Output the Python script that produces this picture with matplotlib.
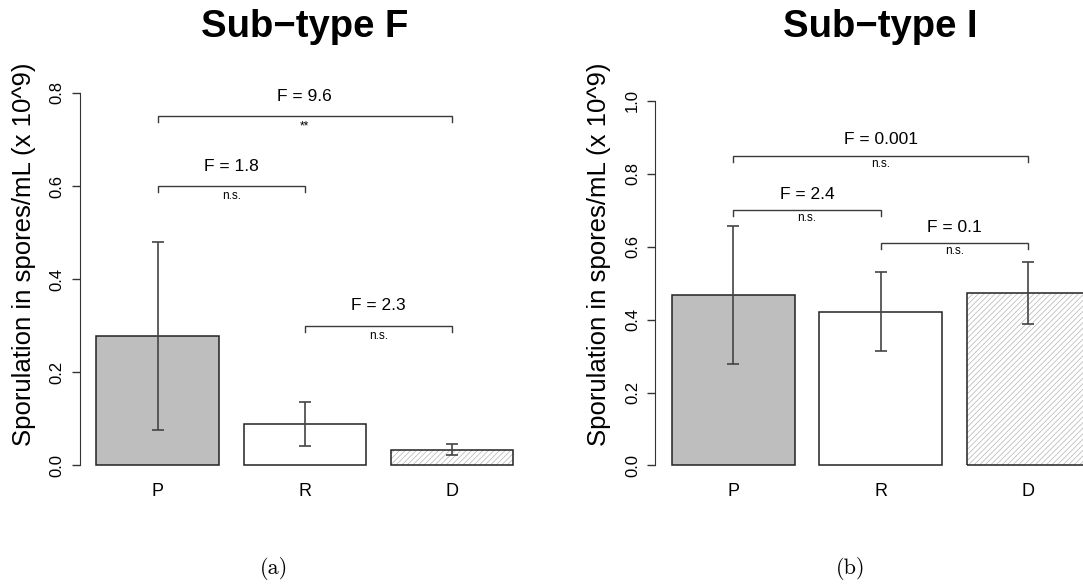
import matplotlib
matplotlib.use("Agg")
import matplotlib.pyplot as plt

plt.rcParams['font.family'] = ['Liberation Sans', 'DejaVu Sans']
plt.rcParams['hatch.linewidth'] = 0.5

# --- data ---
categories = ['P', 'R', 'D']

f_means = [0.278, 0.089, 0.034]
f_err = [0.202, 0.047, 0.0115]
f_pairs = [(0, 2), (0, 1), (1, 2)]
f_stats = ['9.6', '1.8', '2.3']
f_sig = ['**', 'n.s.', 'n.s.']
f_bracket_y = [0.75, 0.60, 0.30]
f_yticks = [0.0, 0.2, 0.4, 0.6, 0.8]

i_means = [0.468, 0.422, 0.474]
i_err = [0.189, 0.108, 0.085]
i_pairs = [(0, 2), (0, 1), (1, 2)]
i_stats = ['0.001', '2.4', '0.1']
i_sig = ['n.s.', 'n.s.', 'n.s.']
i_bracket_y = [0.85, 0.70, 0.61]
i_yticks = [0.0, 0.2, 0.4, 0.6, 0.8, 1.0]

W, H = 1083, 585
fig = plt.figure(figsize=(W / 100, H / 100), dpi=100)

bar_x = [0.7, 1.9, 3.1]
fills = ['#bebebe', 'white', 'white']
hatches = [None, None, '//////']
line_col = '#3a3a3a'


def px_axes(x0, x1, y0, y1):
    return fig.add_axes([x0 / W, 1 - y1 / H, (x1 - x0) / W, (y1 - y0) / H])


def draw_panel(ax, means, err, pairs, stats, sig, bracket_y, yticks, ylim):
    for xi, m, fc, h in zip(bar_x, means, fills, hatches):
        if h:
            ax.bar(xi, m, width=1.0, color='white', edgecolor='#b4b4b4',
                   hatch=h, linewidth=0)
            ax.bar(xi, m, width=1.0, color='none', edgecolor='#222222', linewidth=1.1)
        else:
            ax.bar(xi, m, width=1.0, color=fc, edgecolor='#222222', linewidth=1.1)
    ax.errorbar(bar_x, means, yerr=err, fmt='none', ecolor='#444444',
                elinewidth=1.2, capsize=4.5, capthick=1.2)

    ax.set_xlim(0.064, 3.736)
    ax.set_ylim(*ylim)
    units_per_px = (ylim[1] - ylim[0]) / ax.bbox.height
    tick = 6 * units_per_px
    for (a, b), st, sg, yb in zip(pairs, stats, sig, bracket_y):
        xa, xb = bar_x[a], bar_x[b]
        ax.plot([xa, xa, xb, xb], [yb - tick, yb, yb, yb - tick],
                color=line_col, lw=1.0, solid_joinstyle='miter')
        ax.text((xa + xb) / 2, yb + 0.043, 'F = ' + st, ha='center', va='center',
                fontsize=12.5)
        ax.text((xa + xb) / 2, yb - 0.022, sg, ha='center', va='center',
                fontsize=8.5)

    for s in ['top', 'right', 'bottom']:
        ax.spines[s].set_visible(False)
    ax.spines['left'].set_bounds(yticks[0], yticks[-1])
    ax.spines['left'].set_color('#333333')
    ax.set_yticks(yticks)
    ax.set_yticklabels(['%.1f' % v for v in yticks], rotation=90, va='center')
    ax.tick_params(axis='y', length=5.8, width=1.0, color='#333333', pad=5,
                   labelsize=12)
    ax.set_xticks(bar_x)
    ax.set_xticklabels(categories)
    ax.tick_params(axis='x', length=0, pad=2, labelsize=13)
    ax.set_facecolor('none')


ax1 = px_axes(79.7, 530.0, 86.4, 480.0)
draw_panel(ax1, f_means, f_err, f_pairs, f_stats, f_sig, f_bracket_y,
           f_yticks, (-0.0313, 0.8141))

ax2 = px_axes(654.9, 1106.5, 86.4, 480.0)
draw_panel(ax2, i_means, i_err, i_pairs, i_stats, i_sig, i_bracket_y,
           i_yticks, (-0.04, 1.04))

# titles, y labels and subfigure captions
for cx, title in [(305, 'Sub\u2212type F'), (880.7, 'Sub\u2212type I')]:
    fig.text(cx / W, 1 - 37 / H, title, ha='center', va='baseline',
             fontsize=27.5, fontweight='bold')
ylab = 'Sporulation in spores/mL (x 10^9)'
for lx in [24, 599.3]:
    fig.text(lx / W, 1 - 254.7 / H, ylab, rotation=90, ha='center', va='center',
             fontsize=18.5)
for cx, cap in [(274, '(a)'), (850.7, '(b)')]:
    fig.text(cx / W, 1 - 569 / H, cap, ha='center', va='center',
             fontsize=16, family='cmr10')

fig.savefig('out.png', dpi=100)
